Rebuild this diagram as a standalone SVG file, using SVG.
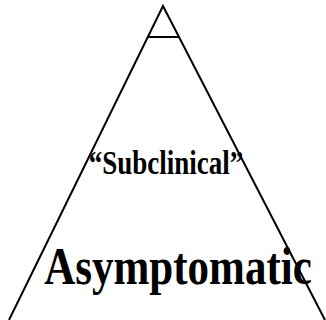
<svg xmlns="http://www.w3.org/2000/svg" width="326" height="320" viewBox="0 0 326 320">
<style>
.ln{stroke:#000;stroke-width:2;fill:none}
.t{font-family:"Liberation Serif","Times New Roman",serif;font-weight:bold;fill:#000;text-anchor:middle}
</style>
<rect width="326" height="320" fill="#fff"/>
<g id="connectors">
<path class="ln" d="M9,320 L163,6 L325,320"/>
<line class="ln" x1="148" y1="37" x2="180" y2="37"/>
</g>
<g id="subclinical"><text class="t" transform="translate(166,174) scale(1,1.25)" font-size="27">“Subclinical”</text></g>
<g id="asymptomatic"><text class="t" transform="translate(178,284) scale(1,1.22)" font-size="43">Asymptomatic</text></g>
</svg>
